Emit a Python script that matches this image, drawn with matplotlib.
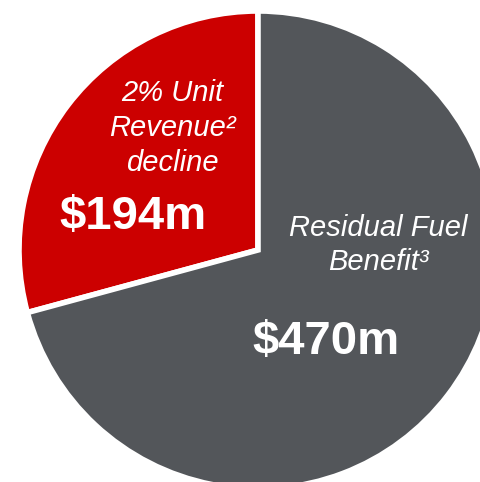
"""Pie chart: unit revenue decline vs residual fuel benefit."""
import matplotlib
matplotlib.use("Agg")
import matplotlib.pyplot as plt

plt.rcParams["font.family"] = ["Liberation Sans", "DejaVu Sans"]

# Data
segments = ["2% Unit\nRevenue\u00b2\ndecline", "Residual Fuel\nBenefit\u00b3"]
values_m = [194, 470]
value_labels = [f"${v}m" for v in values_m]
colors = ["#CC0000", "#53565A"]

W, H = 481, 482
fig = plt.figure(figsize=(W / 100, H / 100), dpi=100)
ax = fig.add_axes([0, 0, 1, 1])

# pie sits partly outside the canvas on the right and bottom
cx, cy, r = 258, H - 250, 239
ax.pie(values_m, colors=colors, startangle=90, counterclock=True,
       center=(cx, cy), radius=r, frame=True,
       wedgeprops=dict(edgecolor="white", linewidth=4))
ax.set_xlim(0, W)
ax.set_ylim(0, H)
ax.set_aspect("equal")
ax.axis("off")

# category names (italic) and values (bold)
name_pos = [(172, H - 128), (378, H - 245)]
value_pos = [(133, H - 217), (326, H - 342)]
for name, (x, y) in zip(segments, name_pos):
    ax.text(x, y, name, color="white", fontsize=21, style="italic",
            ha="center", va="center", linespacing=1.3)
for lab, (x, y) in zip(value_labels, value_pos):
    ax.text(x, y, lab, color="white", fontsize=34, fontweight="bold",
            ha="center", va="center")

fig.savefig("out.png", dpi=100)
plt.close(fig)
